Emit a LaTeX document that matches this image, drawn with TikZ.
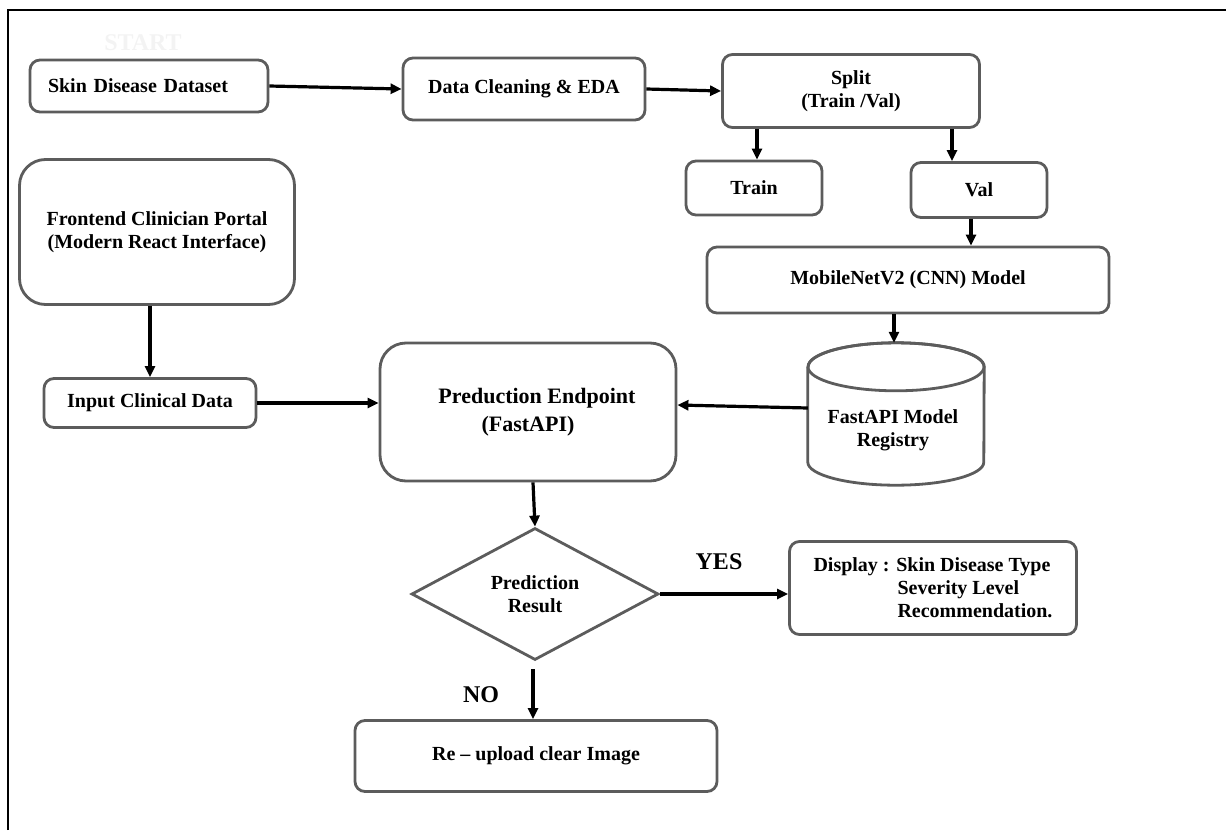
\documentclass[tikz,border=0pt]{standalone}
\usepackage{fontspec}
\setmainfont{Liberation Serif}
\usetikzlibrary{shapes.geometric,arrows.meta}
\definecolor{bordergray}{HTML}{5C5C5C}
\definecolor{faint}{HTML}{F3F3F3}
\begin{document}
\begin{tikzpicture}[x=1pt,y=-1pt,
  font=\bfseries\fontsize{20}{23}\selectfont,
  box/.style={draw=bordergray,line width=2.8pt,rounded corners=10pt,fill=white,align=center,inner sep=0pt},
  bigbox/.style={box,rounded corners=26pt},
  arr/.style={draw=black,line width=3.2pt,-{Triangle[length=11pt,width=10pt]}},
  lbl/.style={font=\bfseries\fontsize{24}{28}\selectfont}
]
\useasboundingbox (0,0) rectangle (1226,830);
% frame (top and left edges)
\draw[line width=1.8pt] (8,830) -- (8,10) -- (1226,10);

\node[text=faint,font=\bfseries\fontsize{24}{28}\selectfont] (start) at (143,43) {START};

\node[box,minimum width=238pt,minimum height=52pt,text width=202pt,align=left,inner xsep=18pt] (skin) at (149,86) {Skin Disease Dataset};
\node[box,minimum width=242pt,minimum height=62pt] (clean) at (524,89) {Data Cleaning \& EDA};
\node[box,minimum width=257pt,minimum height=73pt] (split) at (851,91) {Split\\(Train /Val)};
\node[box,minimum width=136pt,minimum height=54pt] (train) at (754,188) {Train};
\node[box,minimum width=136pt,minimum height=55pt] (val) at (979,190) {Val};
\node[box,minimum width=402pt,minimum height=66pt] (mobile) at (908,280) {MobileNetV2 (CNN) Model};

% cylinder registry
\node[minimum width=176pt,minimum height=142pt,inner sep=0pt,align=center] (reg) at (896,414) {};
\draw[draw=bordergray,line width=2.8pt,fill=white]
  ([yshift=-24pt]reg.north west) -- ([yshift=23pt]reg.south west)
  arc[start angle=180,end angle=360,x radius=88pt,y radius=23pt]
  -- ([yshift=-24pt]reg.north east)
  arc[start angle=0,end angle=180,x radius=88pt,y radius=24pt];
\draw[draw=bordergray,line width=2.8pt] ([yshift=-24pt]reg.north) ellipse[x radius=88pt,y radius=24pt];
\node[align=center] (regtext) at (893,430) {FastAPI Model\\Registry};

\node[bigbox,minimum width=275pt,minimum height=145pt] (front) at (157,232) {Frontend Clinician Portal\\(Modern React Interface)};
\node[box,minimum width=212pt,minimum height=49pt] (input) at (150,403) {Input Clinical Data};
\node[bigbox,minimum width=296pt,minimum height=138pt,font=\bfseries\fontsize{22}{28}\selectfont] (pred) at (528,412) {\hspace*{18pt}Preduction Endpoint\\(FastAPI)};

\node[draw=bordergray,line width=2.8pt,fill=white,diamond,aspect=1.87,minimum width=247pt,minimum height=132pt,inner sep=0pt,align=center] (dia) at (535,594) {Prediction\\Result};
\node[box,minimum width=287pt,minimum height=93pt,align=left] (disp) at (933,588) {Display : Skin Disease Type\\\hspace*{84pt}Severity Level\\\hspace*{84pt}Recommendation.};
\node[box,minimum width=362pt,minimum height=71pt] (re) at (536,756) {Re -- upload clear Image};

\node[lbl] (yes) at (719,562) {YES};
\node[lbl] (no) at (481,695) {NO};

% connectors
\draw[arr] (skin.east) -- (clean.west);
\draw[arr] (clean.east) -- (split.west);
\draw[arr] ([xshift=3pt]train.north |- split.south) -- ([xshift=3pt]train.north);
\draw[arr] ([xshift=-27pt]val.north |- split.south) -- ([xshift=-27pt]val.north);
\draw[arr] ([xshift=-8pt]val.south) -- ([xshift=-8pt]val.south |- mobile.north);
\draw[arr] ([xshift=-2pt]reg.north |- mobile.south) -- ([xshift=-2pt]reg.north);
\draw[arr] ([yshift=6pt]reg.west) -- ([yshift=7pt]pred.east);
\draw[arr] (input.north |- front.south) -- (input.north);
\draw[arr] (input.east) -- (input.east -| pred.west);
\draw[arr] ([xshift=5pt]pred.south) -- (dia.north);
\draw[arr] (dia.east) -- (dia.east -| disp.west);
\draw[arr] ([xshift=-2pt,yshift=-8pt]dia.south) -- ([xshift=-2pt]dia.south |- re.north);
\end{tikzpicture}
\end{document}
